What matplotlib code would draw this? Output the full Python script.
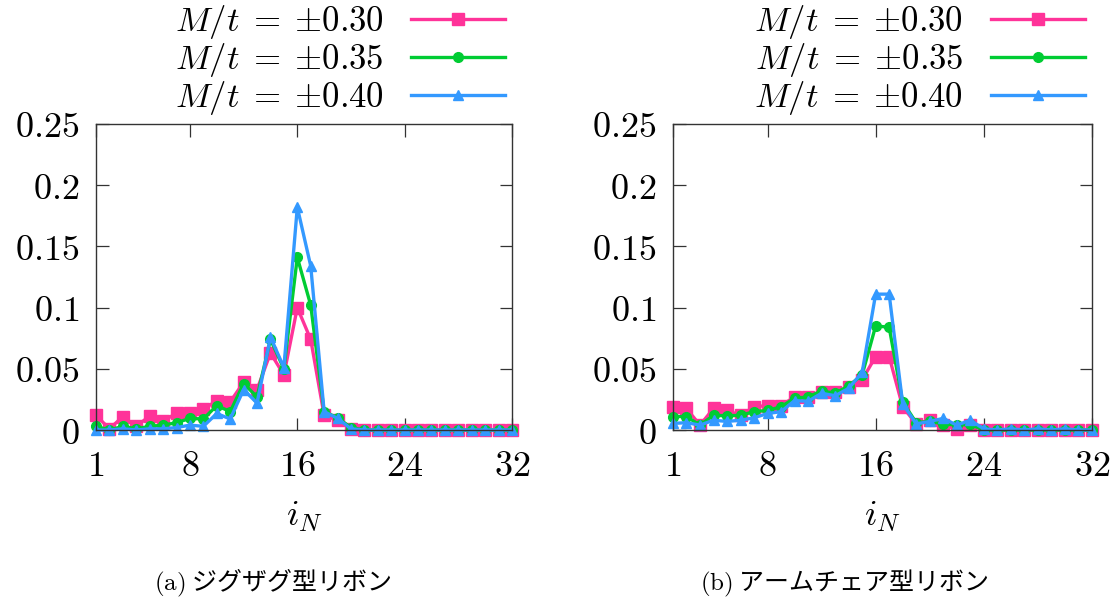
import numpy as np
import matplotlib
matplotlib.use("Agg")
import matplotlib.pyplot as plt

plt.rcParams['mathtext.fontset'] = 'cm'
plt.rcParams['font.family'] = ['DejaVu Serif', 'Noto Sans CJK JP']

# site index along the ribbon
sites = np.arange(1, 33)

# panel (a) zigzag ribbon
pink_a = [0.012, 0.001, 0.011, 0.003, 0.0115, 0.007, 0.014, 0.014, 0.017, 0.024,
          0.023, 0.039, 0.033, 0.063, 0.045, 0.100, 0.074, 0.012, 0.008, 0.001,
          0.0, 0.0, 0.0, 0.0, 0.0, 0.0, 0.0, 0.0, 0.0, 0.0, 0.0, 0.0]
green_a = [0.003, 0.0, 0.003, 0.001, 0.003, 0.004, 0.006, 0.0095, 0.009, 0.020,
           0.015, 0.038, 0.027, 0.074, 0.050, 0.141, 0.102, 0.015, 0.010, 0.002,
           0.0, 0.0, 0.0, 0.0, 0.0, 0.0, 0.0, 0.0, 0.0, 0.0, 0.0, 0.0]
blue_a = [0.0, 0.0, 0.001, 0.0, 0.001, 0.001, 0.002, 0.004, 0.003, 0.0135,
          0.009, 0.033, 0.022, 0.076, 0.051, 0.182, 0.134, 0.015, 0.0095, 0.001,
          0.0, 0.0, 0.0, 0.0, 0.0, 0.0, 0.0, 0.0, 0.0, 0.0, 0.0, 0.0]

# panel (b) armchair ribbon
pink_b = [0.019, 0.0176, 0.004, 0.0176, 0.016, 0.012, 0.019, 0.020, 0.020, 0.027,
          0.027, 0.031, 0.031, 0.035, 0.041, 0.060, 0.060, 0.019, 0.005, 0.008,
          0.004, 0.001, 0.004, 0.0, 0.0, 0.0, 0.0, 0.0, 0.0, 0.0, 0.0, 0.0]
green_b = [0.011, 0.011, 0.004, 0.012, 0.0116, 0.012, 0.015, 0.016, 0.019, 0.026,
           0.027, 0.032, 0.030, 0.036, 0.045, 0.085, 0.084, 0.023, 0.006, 0.007,
           0.005, 0.004, 0.0046, 0.0, 0.0, 0.0, 0.0, 0.0, 0.0, 0.0, 0.0, 0.0]
blue_b = [0.0054, 0.006, 0.004, 0.008, 0.007, 0.008, 0.010, 0.0135, 0.015, 0.024,
          0.0235, 0.030, 0.028, 0.034, 0.047, 0.111, 0.111, 0.0216, 0.005, 0.007,
          0.0095, 0.004, 0.008, 0.001, 0.0, 0.001, 0.0, 0.001, 0.0, 0.001, 0.0, 0.0]

labels = [r'$M/t\;=\;{\pm}0.30$', r'$M/t\;=\;{\pm}0.35$', r'$M/t\;=\;{\pm}0.40$']
colors = ['#ff3399', '#00cc33', '#3399ff']
markers = ['s', 'o', '^']
msizes = [8, 7, 7]

xticks = [1, 8, 16, 24, 32]
yticks = [0, 0.05, 0.1, 0.15, 0.2, 0.25]
ytick_labels = ['0', '0.05', '0.1', '0.15', '0.2', '0.25']
captions = [r'$\mathrm{(a)}$ ジグザグ型リボン', r'$\mathrm{(b)}$ アームチェア型リボン']
caption_x = [0.245, 0.7585]

fig = plt.figure(figsize=(11.14, 6.06), dpi=100)
ax_a = fig.add_axes([0.0862, 0.2904, 0.3734, 0.505])
ax_b = fig.add_axes([0.6041, 0.2904, 0.3760, 0.505])

panels = [(ax_a, [pink_a, green_a, blue_a]), (ax_b, [pink_b, green_b, blue_b])]

for k, (ax, series) in enumerate(panels):
    for vals, lab, c, m, ms in zip(series, labels, colors, markers, msizes):
        ax.plot(sites, vals, color=c, marker=m, markersize=ms, lw=2.4,
                label=lab, clip_on=False)
    ax.set_xlim(1, 32)
    ax.set_ylim(0, 0.25)
    ax.set_xticks(xticks)
    ax.set_xticklabels(['$%d$' % t for t in xticks])
    ax.set_yticks(yticks)
    ax.set_yticklabels(['$%s$' % t for t in ytick_labels])
    ax.tick_params(direction='in', length=9, width=0.9, top=True, right=True,
                   labelsize=26, colors='#333333', labelcolor='black')
    ax.tick_params(axis='x', pad=14)
    ax.tick_params(axis='y', pad=12)
    for sp in ax.spines.values():
        sp.set_linewidth(1.0)
        sp.set_color('#333333')
    ax.set_xlabel(r'$i_N$', fontsize=26, labelpad=12)
    ax.legend(loc='lower right', bbox_to_anchor=(1.0, 1.0), frameon=False,
              markerfirst=False, fontsize=25, handlelength=2.7,
              labelspacing=0.0, handletextpad=0.8, borderpad=0.0,
              borderaxespad=0.2)
    fig.text(caption_x[k], 1 - 583 / 606, captions[k], ha='center',
             va='center', fontsize=18, family=['Noto Sans CJK JP', 'DejaVu Sans'])

fig.savefig('out.png', dpi=100)
